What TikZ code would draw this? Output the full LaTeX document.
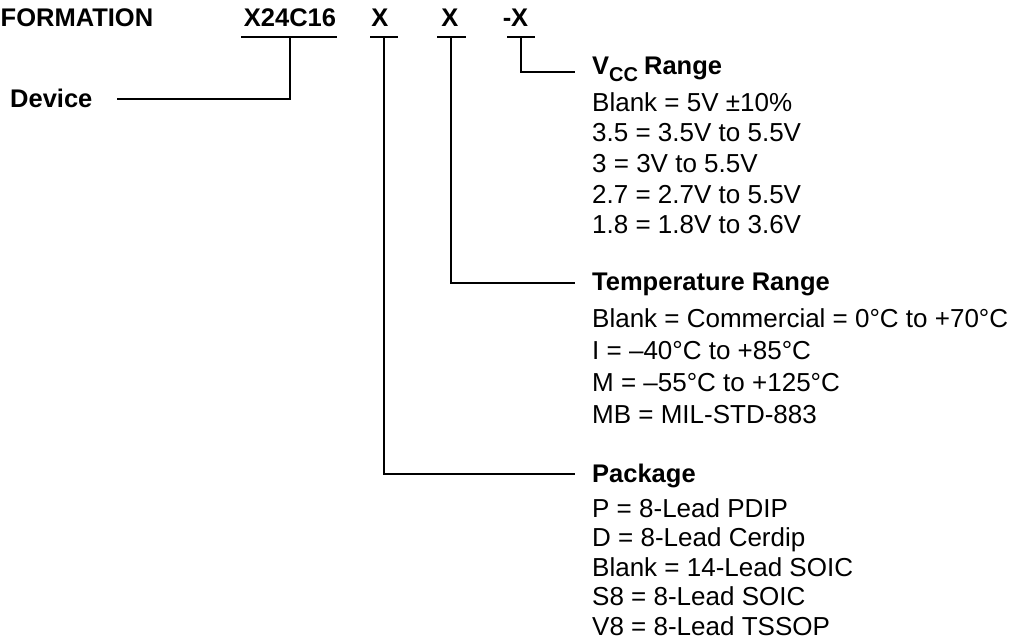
\documentclass[tikz,border=0pt]{standalone}
\usepackage{fontspec}
\setmainfont{Liberation Sans}
\begin{document}
\begin{tikzpicture}[x=1pt,y=-1pt]
\tikzset{
  txt/.style={anchor=base west, inner sep=0pt, font=\fontsize{26}{30}\selectfont},
  hdr/.style={anchor=base west, inner sep=0pt, font=\fontsize{25.5}{30}\selectfont\bfseries},
  code/.style={anchor=base, inner sep=0pt, font=\fontsize{25.5}{30}\selectfont\bfseries},
  wire/.style={line width=1.6pt, line join=miter}
}
\useasboundingbox (0,0) rectangle (1021,642);
% top row
\node[hdr] (title) at (0.5,27) {FORMATION};
\node[code] (dev) at (290,27) {X24C16};
\node[code] (pk) at (380,27) {X};
\node[code] (tp) at (450,27) {X};
\node[code] (vc) at (515.5,27) {-X};
% underline anchors
\coordinate (devU) at (290,37);
\coordinate (pkU) at (384,37);
\coordinate (tpU) at (451,37);
\coordinate (vcU) at (521,37);
\draw[wire] ([xshift=-49pt]devU) -- ([xshift=47pt]devU);
\draw[wire] ([xshift=-14pt]pkU) -- ([xshift=14pt]pkU);
\draw[wire] ([xshift=-14pt]tpU) -- ([xshift=15pt]tpU);
\draw[wire] ([xshift=-14pt]vcU) -- ([xshift=14pt]vcU);
% device
\node[hdr] (device) at (10,107) {Device};
\coordinate (devEnd) at (117,99);
\draw[wire] (devU) |- (devEnd);
% VCC range
\node[hdr] (vcH) at (592,75) {V\raisebox{-7pt}{\fontsize{20}{20}\selectfont CC}\hspace{6pt}Range};
\coordinate (vcEnd) at (575,72);
\draw[wire] (vcU) |- (vcEnd);
\node[txt] (vc1) at (592,112) {Blank = 5V ±10\%};
\node[txt] (vc2) at (592,142) {3.5 = 3.5V to 5.5V};
\node[txt] (vc3) at (592,172) {3 = 3V to 5.5V};
\node[txt] (vc4) at (592,203) {2.7 = 2.7V to 5.5V};
\node[txt] (vc5) at (592,233) {1.8 = 1.8V to 3.6V};
% temperature range
\node[hdr] (tpH) at (592,290) {Temperature Range};
\coordinate (tpEnd) at (575,283);
\draw[wire] (tpU) |- (tpEnd);
\node[txt] (tp1) at (592,327) {Blank = Commercial = 0°C to +70°C};
\node[txt] (tp2) at (592,359) {I = –40°C to +85°C};
\node[txt] (tp3) at (592,391) {M = –55°C to +125°C};
\node[txt] (tp4) at (592,423) {MB = MIL-STD-883};
% package
\node[hdr] (pkH) at (592,482) {Package};
\coordinate (pkEnd) at (575,474);
\draw[wire] (pkU) |- (pkEnd);
\node[txt] (pk1) at (592,517) {P = 8-Lead PDIP};
\node[txt] (pk2) at (592,546.5) {D = 8-Lead Cerdip};
\node[txt] (pk3) at (592,576) {Blank = 14-Lead SOIC};
\node[txt] (pk4) at (592,605.5) {S8 = 8-Lead SOIC};
\node[txt] (pk5) at (592,635) {V8 = 8-Lead TSSOP};
\end{tikzpicture}
\end{document}
